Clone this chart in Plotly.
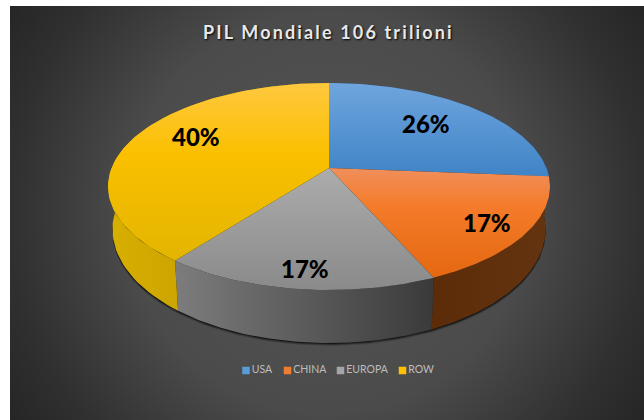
import math
import plotly.graph_objects as go

categories = ["USA", "CHINA", "EUROPA", "ROW"]
shares = [26.3, 17.1, 17.0, 39.6]
title_text = "PIL Mondiale 106 trilioni"

# styles (colorscale position 0 is the lower edge of the picture)
top_scales = [
    [[0, "#3f84c6"], [1, "#6fa5de"]],
    [[0, "#e56810"], [0.65, "#f47b2a"], [1, "#f08f5c"]],
    [[0, "#8a8a8a"], [1, "#acacac"]],
    [[0, "#e3b500"], [0.6, "#fac000"], [1, "#ffc83f"]],
]
side_colors = [("#3a6a9a", "#2a5a8a"), ("#5c2c08", "#643410"), ("#7c7c7c", "#3a3a3a"), ("#d8b000", "#b48c00")]
legend_colors = ["#5b9bd5", "#ed7d31", "#a5a5a5", "#ffc000"]
legend_x = [246, 287.5, 340.5, 402.5]
label_shift = [(-13, 2), (14, 7), (-1.5, 14), (15, -8)]
W, H = 644, 420
CX, CY, R, A, K = 329, 168, 217.4, 100.2, 0.1787


def project(r, ang):
    u, v = r * math.sin(ang), r * math.cos(ang)
    f = 1 / (1 + K * v)
    return CX + R * u * f, CY - A * v * f


def lower(p):
    x, y = p
    return CX + (x - CX) * 0.98, y + 53 + (y - 290) * 0.1


def arc(a0, a1, n=80):
    return [project(1, a0 + (a1 - a0) * i / n) for i in range(n + 1)]


fig = go.Figure()

# panel background: a large square keeps the radial gradient circular; strips below mask the overflow
bx0, bx1, by0, by1 = 327 - 400, 327 + 400, 213 - 400, 213 + 400
fig.add_trace(go.Scatter(
    x=[bx0, bx1, bx1, bx0, bx0], y=[by0, by0, by1, by1, by0], mode="lines", line=dict(width=0), fill="toself",
    fillgradient=dict(type="radial", colorscale=[[0, "#555555"], [0.5, "#4b4b4b"], [0.79, "#303030"], [1, "#222222"]]),
    hoverinfo="skip", showlegend=False))

edges = [0]
for s in shares:
    edges.append(edges[-1] + s / sum(shares) * 2 * math.pi)

# soft shadow under the lower rim
full = [lower(p) for p in arc(0, 2 * math.pi, 240)]
for off, alpha in ((3, 0.15), (2, 0.3), (1, 0.5)):
    fig.add_trace(go.Scatter(
        x=[p[0] for p in full], y=[p[1] + off for p in full], mode="lines", line=dict(width=0),
        fill="toself", fillcolor=f"rgba(0,0,0,{alpha})", hoverinfo="skip", showlegend=False))

# side walls
for i in range(4):
    rim = arc(edges[i], edges[i + 1])
    low = [lower(p) for p in rim][::-1]
    poly = rim + low + [rim[0]]
    xs = [p[0] for p in poly]
    fig.add_trace(go.Scatter(
        x=xs, y=[p[1] for p in poly], mode="lines", line=dict(width=0), fill="toself",
        fillgradient=dict(type="horizontal", colorscale=[[0, side_colors[i][0]], [1, side_colors[i][1]]]),
        hoverinfo="skip", showlegend=False))

# top faces
for i in range(4):
    rim = arc(edges[i], edges[i + 1])
    poly = [(CX, CY)] + rim + [(CX, CY)]
    fig.add_trace(go.Scatter(
        x=[p[0] for p in poly], y=[p[1] for p in poly], mode="lines", line=dict(width=0), fill="toself",
        fillgradient=dict(type="vertical", colorscale=top_scales[i]),
        name=categories[i], hoverinfo="name", showlegend=False))

# value labels
for i in range(4):
    mid = (edges[i] + edges[i + 1]) / 2
    x, y = project(0.75, mid)
    fig.add_annotation(x=x, y=y, xref="x", yref="y", text=f"{round(shares[i])}%", showarrow=False,
                       xshift=label_shift[i][0], yshift=-label_shift[i][1],
                       font=dict(family="Lato", size=24, color="#000000", weight=900))

# legend
fig.add_trace(go.Scatter(
    x=legend_x, y=[370.5] * 4, mode="markers+text", text=categories, textposition="middle right",
    textfont=dict(family="Lato", size=10.5, color="#bdbdbd"),
    marker=dict(symbol="square", size=7.5, color=legend_colors), hoverinfo="skip", showlegend=False))

fig.add_annotation(x=328, y=32, xref="x", yref="y",
                   text=f'<span style="letter-spacing:2.15px"><b>{title_text}</b></span>', showarrow=False,
                   font=dict(family="Lato", size=18, color="#e8e8e8", shadow="1px 1px 2px #000000"))

# white page strips to the left of and above the panel
fig.add_shape(type="rect", x0=0, x1=10, y0=0, y1=H, fillcolor="#ffffff", line_width=0, layer="above")
fig.add_shape(type="rect", x0=0, x1=W, y0=0, y1=6, fillcolor="#ffffff", line_width=0, layer="above")

fig.update_layout(
    width=W, height=H, margin=dict(l=0, r=0, t=0, b=0), autosize=False,
    paper_bgcolor="#ffffff", plot_bgcolor="#ffffff", showlegend=False,
    xaxis=dict(range=[0, W], visible=False, fixedrange=True),
    yaxis=dict(range=[H, 0], visible=False, fixedrange=True))
fig.write_html("out.html", config={"displayModeBar": False},
               post_script="document.body.style.margin='0';document.body.style.overflow='hidden';")
